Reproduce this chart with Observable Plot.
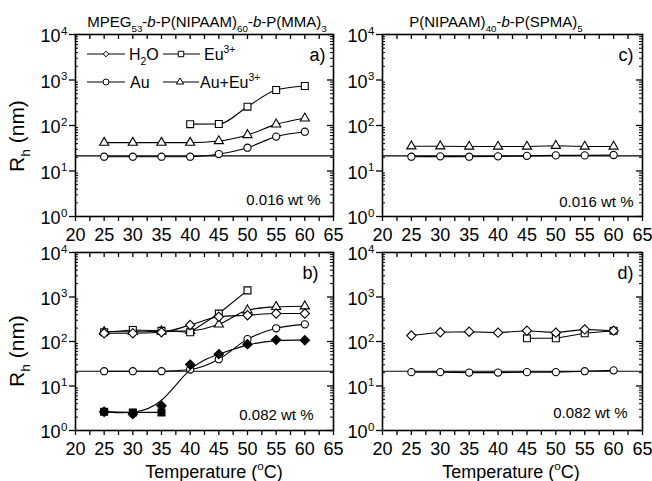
<!DOCTYPE html>
<html><head><meta charset="utf-8">
<script src="https://cdn.jsdelivr.net/npm/d3@7"></script>
<script src="https://cdn.jsdelivr.net/npm/@observablehq/plot@0.6"></script>
<style>
html,body{margin:0;padding:0;background:#fff;}
#chart{position:relative;width:652px;height:481px;overflow:hidden;background:#fff;}
#chart svg{position:absolute;left:0;top:0;}
</style></head><body><div id="chart"></div>
<script>
// ---------- data ----------
const temps = [25, 30, 35, 40, 45, 50, 55, 60];
// Panel a: MPEG53-b-P(NIPAAM)60-b-P(MMA)3, 0.016 wt %
const aAu = [20.6, 20.6, 20.6, 20.6, 23.6, 32.5, 57, 73];
const aEuTemps = [40, 45, 50, 55, 60];
const aEu = [107, 108, 259, 603, 738];
const aAuEu = [42, 42, 42, 42, 45.6, 62, 106, 144];
// Panel b: MPEG..., 0.082 wt %
const bH2O = [153, 153, 161, 235, 359, 390, 425, 425];
const bEuTemps = [25, 30, 35, 40, 45, 50];
const bEu = [161, 182, 174, 161, 425, 1409];
const bAu = [21.5, 21.5, 21.5, 23.5, 40, 113, 198, 243];
const bAuEu = [165, 165, 170, 174, 243, 505, 600, 620];
const bH2OFilled = [2.64, 2.35, 3.6, 30.3, 52, 87, 109, 107];
const bEuFilledTemps = [25, 30, 35];
const bEuFilled = [2.64, 2.55, 2.55];
// Panel c: P(NIPAAM)40-b-P(SPMA)5, 0.016 wt %
const cAu = [20.6, 21, 20.6, 21, 21.5, 22, 22, 22.5];
const cAuEu = [35, 35, 34.5, 34.5, 34.5, 36, 34.5, 34.5];
// Panel d: P(NIPAAM)40-b-P(SPMA)5, 0.082 wt %
const dH2O = [136, 161, 166, 158, 175, 158, 187, 175];
const dEuTemps = [45, 50, 55, 60];
const dEu = [118, 118, 153, 175];
const dAu = [20.5, 20.5, 20, 20, 20.5, 20.5, 21.5, 22.5];
// reference radius line
const refRh = [21.5];
// ticks
const xTicks = [20, 22.5, 25, 27.5, 30, 32.5, 35, 37.5, 40, 42.5, 45, 47.5, 50, 52.5, 55, 57.5, 60, 62.5, 65];
const yMajor = [1, 10, 100, 1000, 10000];
const yMinorMult = [2, 3, 4, 5, 6, 7, 8, 9];
const yDecades = [1, 10, 100, 1000];
const yMinor = yDecades.flatMap(d => yMinorMult.map(m => m * d));

// ---------- helpers ----------
const W = 652, H = 481;
const FONT = '"Liberation Sans", Arial, Helvetica, sans-serif';
const S = (xs, ys) => xs.map((t, i) => ({t, v: ys[i]}));
const SYM = {
  diamond: {symbol: "diamond2", r: 4.2},
  square: {symbol: "square", r: 3.9},
  circle: {symbol: "circle", r: 3.6},
  triangle: {symbol: "triangle", r: 3.4}
};

function seriesMarks(s) {
  const data = S(s.x, s.y);
  return [
    Plot.line(data, {x: "t", y: "v", curve: s.curve || "linear", stroke: "black", strokeWidth: 1.1}),
    Plot.dot(data, {x: "t", y: "v", symbol: SYM[s.m].symbol, r: SYM[s.m].r,
      fill: s.filled ? "black" : "white", stroke: "black", strokeWidth: 1.1})
  ];
}

function panel(p) {
  const fw = p.R - p.L, fh = p.B - p.T;
  return Plot.plot({
    width: W, height: H,
    marginLeft: p.L, marginRight: W - p.R, marginTop: p.T, marginBottom: H - p.B,
    style: {background: "transparent", fontFamily: FONT, overflow: "visible"},
    x: {type: "linear", domain: [20, 65]},
    y: {type: "log", domain: [1, 10000]},
    marks: [
      Plot.ruleY(refRh, {stroke: "black", strokeWidth: 1.1}),
      ...p.series.flatMap(seriesMarks),
      Plot.frame({stroke: "black", strokeWidth: 1.6}),
      Plot.axisX({ticks: xTicks, tickSize: 5, tickPadding: 7, strokeWidth: 1.3,
        tickFormat: d => (d % 5 === 0 ? String(d) : ""), fontSize: 18, label: null}),
      Plot.tickX(xTicks, {x: d => d, insetBottom: fh - 5, strokeWidth: 1.3}),
      Plot.axisY({anchor: "left", ticks: yMajor, tickSize: 6, strokeWidth: 1.3, tickFormat: () => "", label: null}),
      Plot.tickY(yMinor, {y: d => d, insetRight: fw - 3}),
      Plot.tickY(yMajor, {y: d => d, insetLeft: fw - 6, strokeWidth: 1.3}),
      Plot.tickY(yMinor, {y: d => d, insetLeft: fw - 3}),
      Plot.text(yMajor, {y: d => d, text: () => "10", frameAnchor: "left", textAnchor: "end",
        lineAnchor: "middle", dx: -15, dy: 2, fontSize: 18, fill: "black"}),
      Plot.text(yMajor, {y: d => d, text: d => String(Math.round(Math.log10(d))), frameAnchor: "left",
        textAnchor: "start", lineAnchor: "middle", dx: -14.5, dy: -3.5, fontSize: 11.5, fill: "black"}),
      Plot.text([p.label], {text: d => d, frameAnchor: "top-right", textAnchor: "end", lineAnchor: "middle",
        dx: p.labelDx, dy: 21, fontSize: 18, fill: "black"}),
      Plot.text([p.conc], {text: d => d, frameAnchor: "bottom-right", textAnchor: "end", lineAnchor: "middle",
        dx: p.concDx, dy: p.concDy, fontSize: 15, fill: "black"})
    ]
  });
}

const panels = [
  {L: 75, R: 333, T: 34, B: 216, label: "a)", labelDx: -8, conc: "0.016 wt %", concDx: -13, concDy: -16,
    series: [
      {x: temps, y: aAu, m: "circle", curve: "monotone-x"},
      {x: temps, y: aAuEu, m: "triangle", curve: "monotone-x"},
      {x: aEuTemps, y: aEu, m: "square", curve: "monotone-x"}
    ]},
  {L: 382, R: 642, T: 34, B: 216, label: "c)", labelDx: -9, conc: "0.016 wt %", concDx: -9, concDy: -14,
    series: [
      {x: temps, y: cAu, m: "circle"},
      {x: temps, y: cAuEu, m: "triangle"}
    ]},
  {L: 75, R: 333, T: 252, B: 430, label: "b)", labelDx: -15, conc: "0.082 wt %", concDx: -20, concDy: -15,
    series: [
      {x: temps, y: bAu, m: "circle", curve: "monotone-x"},
      {x: temps, y: bH2OFilled, m: "diamond", filled: true, curve: "basis"},
      {x: bEuFilledTemps, y: bEuFilled, m: "square", filled: true},
      {x: temps, y: bAuEu, m: "triangle", curve: "monotone-x"},
      {x: bEuTemps, y: bEu, m: "square"},
      {x: temps, y: bH2O, m: "diamond", curve: "monotone-x"}
    ]},
  {L: 382, R: 642, T: 252, B: 430, label: "d)", labelDx: -9, conc: "0.082 wt %", concDx: -15, concDy: -17,
    series: [
      {x: temps, y: dAu, m: "circle"},
      {x: dEuTemps, y: dEu, m: "square"},
      {x: temps, y: dH2O, m: "diamond"}
    ]}
];

const chart = document.getElementById("chart");
for (const p of panels) chart.appendChild(panel(p));

// ---------- overlay text (titles, axis titles, legend) ----------
const svg = d3.create("svg").attr("width", W).attr("height", H)
  .style("font-family", FONT).style("overflow", "visible");

function rich(x, y, parts, size, anchor = "start", rotate = false) {
  const t = svg.append("text").attr("x", x).attr("y", y).attr("font-size", size)
    .attr("text-anchor", anchor).attr("fill", "black");
  if (rotate) t.attr("transform", `rotate(-90 ${x} ${y})`);
  let off = 0;
  for (const [s, k] of parts) {
    const target = k === "sub" ? size * 0.3 : k === "sup" ? -size * 0.42 : 0;
    const ts = t.append("tspan").text(s).attr("dy", target - off);
    off = target;
    if (k === "sub" || k === "sup") ts.attr("font-size", size * 0.65);
    if (k === "i") ts.attr("font-style", "italic");
  }
  return t;
}

rich(207, 27, [["MPEG"], ["53", "sub"], ["-"], ["b", "i"], ["-P(NIPAAM)"], ["60", "sub"], ["-"], ["b", "i"], ["-P(MMA)"], ["3", "sub"]], 15, "middle");
rich(496, 27, [["P(NIPAAM)"], ["40", "sub"], ["-"], ["b", "i"], ["-P(SPMA)"], ["5", "sub"]], 15, "middle");
rich(24, 136, [["R"], ["h", "sub"], [" (nm)"]], 21, "middle", true);
rich(24, 351, [["R"], ["h", "sub"], [" (nm)"]], 21, "middle", true);
rich(214, 478, [["Temperature ("], ["o", "sup"], ["C)"]], 18, "middle");
rich(511, 478, [["Temperature ("], ["o", "sup"], ["C)"]], 18, "middle");

// legend in panel a
const legendItems = [
  {x0: 87, x1: 125, mx: 106, y: 54, sym: d3.symbolDiamond2, area: 20, tx: 129, parts: [["H"], ["2", "sub"], ["O"]]},
  {x0: 163, x1: 200, mx: 181, y: 54, sym: d3.symbolSquare, area: 30, tx: 204, parts: [["Eu"], ["3+", "sup"]]},
  {x0: 87, x1: 125, mx: 106, y: 82, sym: d3.symbolCircle, area: 28, tx: 130, parts: [["Au"]]},
  {x0: 163, x1: 199, mx: 180, y: 82, sym: d3.symbolTriangle, area: 22, tx: 200, parts: [["Au+Eu"], ["3+", "sup"]]}
];
for (const it of legendItems) {
  svg.append("line").attr("x1", it.x0).attr("x2", it.x1).attr("y1", it.y).attr("y2", it.y)
    .attr("stroke", "black").attr("stroke-width", 1.1);
  svg.append("path").attr("d", d3.symbol(it.sym, it.area)()).attr("transform", `translate(${it.mx},${it.y})`)
    .attr("fill", "white").attr("stroke", "black").attr("stroke-width", 1);
  rich(it.tx, it.y + 6, it.parts, 16, "start");
}
chart.appendChild(svg.node());
</script></body></html>
